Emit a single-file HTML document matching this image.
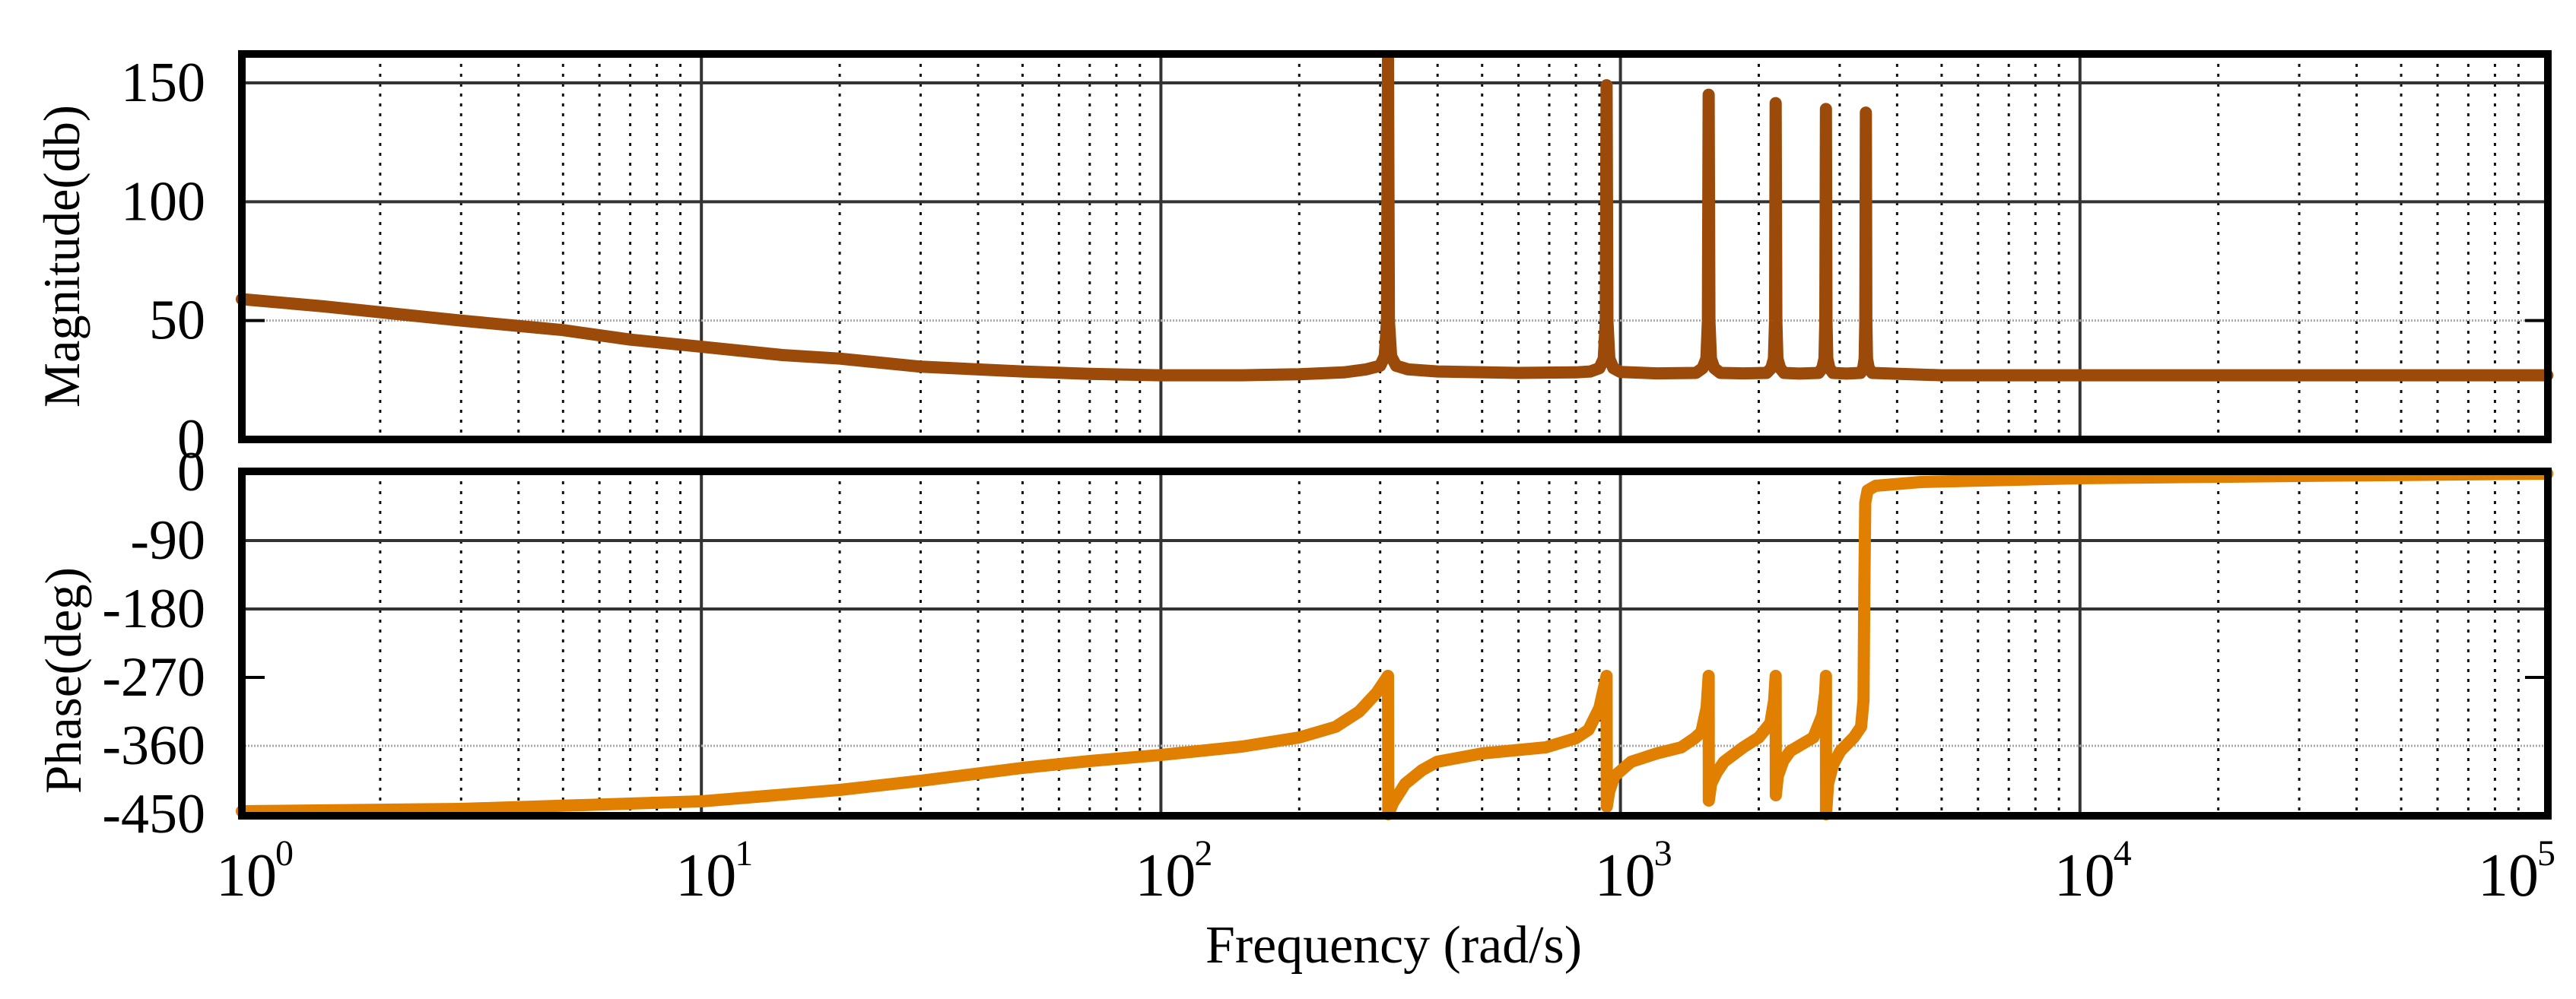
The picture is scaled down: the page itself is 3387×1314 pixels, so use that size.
<!DOCTYPE html>
<html><head><meta charset="utf-8"><style>
html,body{margin:0;padding:0;background:#fff}
svg{display:block}
text{font-family:"Liberation Serif",serif;fill:#000}
</style></head><body>
<svg id="chart" width="3387" height="1314" viewBox="0 0 3387 1314" xmlns="http://www.w3.org/2000/svg">
<g id="grid"></g>
<g id="series"></g>
<g id="frames"></g>
<g id="labels"></g>
</svg>
<script>
// ---- data ----
const magFreq = [1,1.5,2,3,5,7,10,15,20,30,50,70,100,150,200,250,
 280,300,307,310.5,312,313.5,317,325,345,400,600,800,
 860,900,920,929,933,937,946,965,1000,1200,
 1460,1510,1538,1550,1556,1562,1574,1600,1650,1850,
 2080,2130,2158,2170,2177,2184,2196,2225,2270,2450,
 2700,2750,2780,2792,2800,2808,2820,2850,2900,3100,
 3330,3375,3400,3412,3420,3428,3440,3470,3530,5000,10000,30000,104000];
const magDb = [59,56,53.5,50,46,42,39,35.5,34,30.6,28.6,27.6,27,27,27.4,28.2,
 29.5,31,35,50,160.5,50,35,31,29.5,28.6,28,28.2,
 28.6,30,34,50,149,50,34,30,28.4,27.8,
 28,30,34,50,145,50,34,30,28,27.8,
 28,30,34,50,141.5,50,34,30,28,27.7,
 28,30,34,50,139,50,34,30,28,27.7,
 28,30,34,50,137.5,50,34,30,28,27,27,27,27];
const phFreq = [1,3,10,20,30,50,70,100,150,200,240,270,295,312,312.5,320,340,370,399,500,688,800,852,900,933,934,945,970,1055,1200,1356,1450,1500,1540,1556,1557,1575,1620,1680,1850,2000,2120,2160,2177,2178,2200,2260,2340,2630,2750,2790,2800,2801,2830,2900,3010,3220,3340,3380,3395,3410,3450,3590,4500,10000,30000,104000];
const phDeg = [-446,-443,-433,-418,-406,-389,-380,-372,-361,-349,-335,-315,-290,-268,-450,-435,-410,-392,-381,-370,-362,-350,-339,-310,-268,-440,-420,-400,-381,-370,-362,-350,-342,-310,-268,-432,-410,-395,-381,-362,-349,-330,-300,-268,-425,-400,-380,-367,-349,-320,-290,-268,-450,-410,-385,-367,-349,-335,-300,-150,-40,-24,-18,-13,-8,-5,-2];
const magTicks = [0,50,100,150];
const phTicks  = [0,-90,-180,-270,-360,-450];
const xDecades = [0,1,2,3,4,5];

// ---- layout ----
const X0=318, DEC=604.2, XR=3350;
const MT=71, MB=578, M0=578, MPX=(578-109)/150;
const PT=620, PB=1073, P0=621, PPX=(1071-621)/450;
const xs = f => X0 + Math.log10(f)*DEC;
const ym = d => M0 - d*MPX;
const yp = d => P0 - d*PPX;
const NS="http://www.w3.org/2000/svg";
function mk(tag, parent, attrs){const e=document.createElementNS(NS,tag);for(const k in attrs)e.setAttribute(k,attrs[k]);parent.appendChild(e);return e;}
const grid=document.getElementById('grid'), series=document.getElementById('series'), frames=document.getElementById('frames'), labels=document.getElementById('labels');

// vertical grid
for(const [top,bot] of [[MT,MB],[PT,PB]]){
  for(let d=0; d<5; d++){
    for(let m=2;m<=9;m++){
      const x=xs(m*Math.pow(10,d));
      const l=mk('line',grid,{x1:x,x2:x,y1:top,y2:bot,stroke:'#111','stroke-width':3,'stroke-dasharray':'4 9'});
      
      
    }
    if(d>0){
      const x=xs(Math.pow(10,d));
      const l=mk('line',grid,{x1:x,x2:x,y1:top,y2:bot,stroke:'#333','stroke-width':4});
      
      
    }
  }
}
// horizontal grid
for(const v of [100,150]){
  const l=mk('line',grid,{x1:X0,x2:XR,y1:ym(v),y2:ym(v),stroke:'#333','stroke-width':4});
  
  
}
{const l=mk('line',grid,{x1:X0,x2:XR,y1:ym(50),y2:ym(50),stroke:'#aaa','stroke-width':3,'stroke-dasharray':'2 2'});

}
for(const v of [-90,-180]){
  const l=mk('line',grid,{x1:X0,x2:XR,y1:yp(v),y2:yp(v),stroke:'#333','stroke-width':4});
  
  
}
{const l=mk('line',grid,{x1:X0,x2:XR,y1:yp(-360),y2:yp(-360),stroke:'#aaa','stroke-width':3,'stroke-dasharray':'2 2'});

}
for(const y of [ym(50),yp(-270)]){
  const t1=mk('line',grid,{x1:X0,x2:X0+30,y1:y,y2:y,stroke:'#000','stroke-width':4});
  
  
  const t2=mk('line',grid,{x1:XR-30,x2:XR,y1:y,y2:y,stroke:'#000','stroke-width':4});
  
  
}

// series
function path(fr,vals,yf,color,name){
  let d='';
  for(let i=0;i<fr.length;i++){d+=(i?'L':'M')+Math.min(xs(fr[i]),XR).toFixed(1)+','+yf(vals[i]).toFixed(1);}
  const p=mk('path',series,{d:d,fill:'none',stroke:color,'stroke-width':16,'stroke-linejoin':'round','stroke-linecap':'round'});
  
  
}
path(magFreq,magDb,ym,'#9c4a0a','magnitude-line');
path(phFreq,phDeg,yp,'#e07f00','phase-line');

// frames
for(const [top,bot,n] of [[MT,MB,'magnitude-plot-frame'],[PT,PB,'phase-plot-frame']]){
  const r=mk('rect',frames,{x:X0,y:top,width:XR-X0,height:bot-top,fill:'none',stroke:'#000','stroke-width':10});
  
  
}

// labels
for(const v of magTicks){
  const t=mk('text',labels,{x:270,y:ym(v)+24,'font-size':74,'text-anchor':'end'});
  t.textContent=String(v);
  
  
}
for(const v of phTicks){
  const t=mk('text',labels,{x:270,y:yp(v)+24,'font-size':74,'text-anchor':'end'});
  t.textContent=String(v);
  
  
}
for(const d of xDecades){
  let x=xs(Math.pow(10,d));
  if(d===5) x=3292;
  const t=mk('text',labels,{x:x-34,y:1178,'font-size':80});
  t.textContent='10';
  
  
  const s=mk('text',labels,{x:x+44,y:1138,'font-size':48});
  s.textContent=String(d);
  
  
}
</script>
<svg style="position:absolute;left:0;top:0" width="3387" height="1314">
<text x="1585" y="1266" font-size="70" textLength="495" lengthAdjust="spacingAndGlyphs" style="font-family:'Liberation Serif',serif">Frequency  (rad/s)</text>
<text transform="translate(104,337) rotate(-90)" text-anchor="middle" font-size="68" textLength="398" lengthAdjust="spacingAndGlyphs" style="font-family:'Liberation Serif',serif">Magnitude(db)</text>
<text transform="translate(106,895) rotate(-90)" text-anchor="middle" font-size="68" textLength="298" lengthAdjust="spacingAndGlyphs" style="font-family:'Liberation Serif',serif">Phase(deg)</text>
</svg>
</body></html>
